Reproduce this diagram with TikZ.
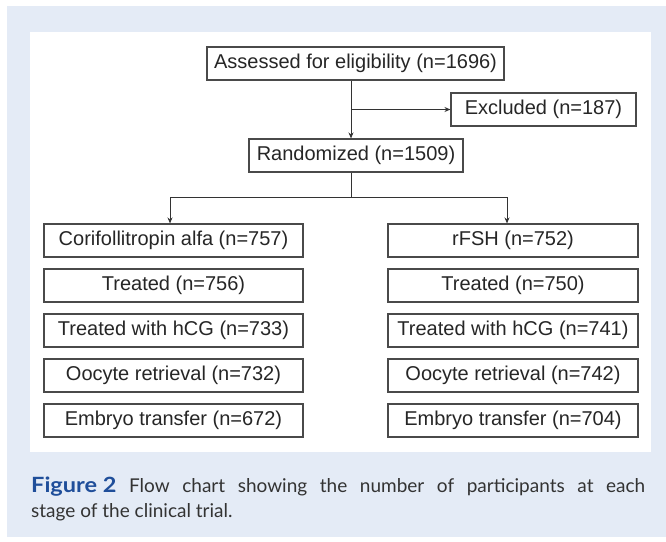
\documentclass[tikz,border=0pt]{standalone}
\usepackage{fontspec}
\setmainfont{Liberation Sans}
\newfontfamily\capfont{Lato}
\usetikzlibrary{arrows.meta}
\definecolor{bgblue}{HTML}{E4EBF6}
\definecolor{figblue}{HTML}{1F4E9A}
\definecolor{captxt}{HTML}{333333}
\definecolor{boxline}{HTML}{4A4A4A}
\begin{document}
\begin{tikzpicture}[x=1pt,y=-1pt,
 box/.style={draw=boxline, line width=1.1pt, minimum height=33pt, inner sep=0pt, font=\fontsize{20}{23}\selectfont, text=black!85},
 conn/.style={draw=black!80, line width=1pt},
 arr/.style={conn, -{Stealth[length=6pt,width=5pt]}},
 captext/.style={anchor=base west, inner sep=0pt, font=\capfont\fontsize{19}{24}\selectfont, text=captxt}]
\useasboundingbox (0,0) rectangle (666,541);
\fill[white] (0,0) rectangle (666,541);
\fill[bgblue] (7,6) rectangle (666,537);
\fill[white] (30,32) rectangle (651,452);

\node[box, minimum width=297pt] (assess) at (355.5,63.5) {Assessed for eligibility (n=1696)};
\node[box, minimum width=185pt] (excl) at (543.5,109.5) {Excluded (n=187)};
\node[box, minimum width=214pt] (rand) at (356,155.5) {Randomized (n=1509)};

\node[box, minimum width=259pt] (l1) at (173.5,240.5) {Corifollitropin alfa (n=757)};
\node[box, minimum width=259pt] (l2) at (173.5,285.5) {Treated (n=756)};
\node[box, minimum width=259pt] (l3) at (173.5,330.5) {Treated with hCG (n=733)};
\node[box, minimum width=259pt] (l4) at (173.5,375.5) {Oocyte retrieval (n=732)};
\node[box, minimum width=259pt] (l5) at (173.5,420.5) {Embryo transfer (n=672)};

\node[box, minimum width=250pt] (r1) at (513,240.5) {rFSH (n=752)};
\node[box, minimum width=250pt] (r2) at (513,285.5) {Treated (n=750)};
\node[box, minimum width=250pt] (r3) at (513,330.5) {Treated with hCG (n=741)};
\node[box, minimum width=250pt] (r4) at (513,375.5) {Oocyte retrieval (n=742)};
\node[box, minimum width=250pt] (r5) at (513,420.5) {Embryo transfer (n=704)};

\coordinate (spine) at (351,0);
\coordinate (bus) at (0,197);
\coordinate (la) at (170,0);
\coordinate (ra) at (507,0);

\draw[arr] (assess.south -| spine) -- (rand.north -| spine);
\draw[arr] (excl.west -| spine) -- (excl.west);
\draw[conn] (rand.south -| spine) -- (bus -| spine);
\draw[arr] (bus -| spine) -| (l1.north -| la);
\draw[arr] (bus -| spine) -| (r1.north -| ra);

\node[captext] (cap1) at (31,492) {\makebox[614pt][s]{\textcolor{figblue}{\fontsize{21}{24}\selectfont\bfseries\scalebox{1.12}[1]{Figure 2}}\ Flow chart showing the number of participants at each}};
\node[captext] (cap2) at (31,517) {stage of the clinical trial.};
\end{tikzpicture}
\end{document}
